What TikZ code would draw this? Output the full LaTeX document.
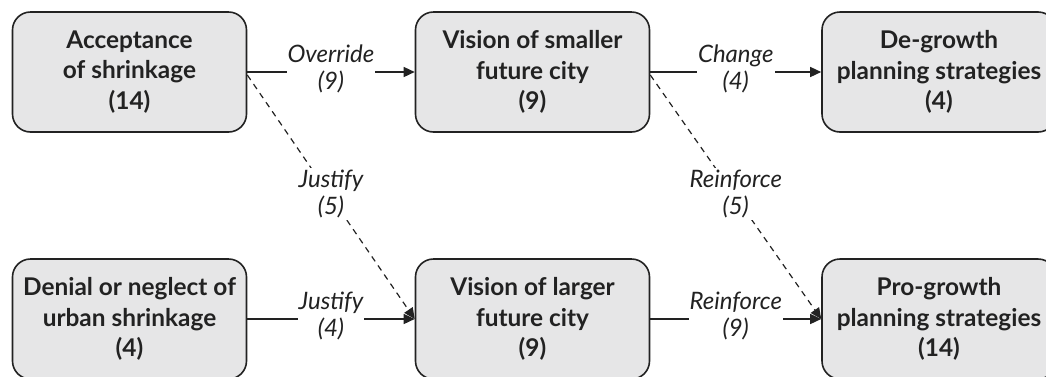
\documentclass[tikz,border=0pt]{standalone}
\usepackage{fontspec}
\setmainfont{Lato}
\usetikzlibrary{arrows.meta}
\definecolor{boxfill}{HTML}{E6E6E7}
\definecolor{ink}{HTML}{222222}
\begin{document}
\begin{tikzpicture}[x=0.5pt,y=-0.5pt,
  box/.style={draw=ink, line width=0.8pt, fill=boxfill, rounded corners=9pt,
    minimum width=117pt, minimum height=60pt, align=center,
    font=\fontsize{12.2}{15.4}\selectfont\bfseries, text=ink, inner sep=0pt},
  lab/.style={fill=white, align=center, font=\fontsize{12}{13.6}\selectfont\itshape,
    inner xsep=0.5pt, inner ysep=1pt, text=ink, yshift=1.5pt},
  conn/.style={line width=0.7pt, draw=ink, -{Triangle[length=5.5pt,width=5pt]}},
  dconn/.style={conn, line width=0.6pt, dash pattern=on 3pt off 2.5pt}]
\useasboundingbox (0,0) rectangle (1046,376);
\node[box] (acc) at (129.5,72) {Acceptance\\of shrinkage\\(14)};
\node[box] (small) at (532.5,72) {Vision of smaller\\future city\\(9)};
\node[box] (degrowth) at (939,72) {De-growth\\planning strategies\\(4)};
\node[box] (den) at (129.5,319) {Denial or neglect of\\urban shrinkage\\(4)};
\node[box] (large) at (532.5,319) {Vision of larger\\future city\\(9)};
\node[box] (pro) at (939,319) {Pro-growth\\planning strategies\\(14)};
\draw[conn] (acc.east) -- node[lab] {Override\\(9)} (small.west);
\draw[conn] (small.east) -- node[lab] {Change\\(4)} (degrowth.west);
\draw[conn] (den.east) -- node[lab] {Justify\\(4)} (large.west);
\draw[conn] (large.east) -- node[lab] {Reinforce\\(9)} (pro.west);
\draw[dconn] ([yshift=-1.5pt]acc.east) -- node[lab] {Justify\\(5)} (large.west);
\draw[dconn] ([yshift=-1.5pt]small.east) -- node[lab] {Reinforce\\(5)} (pro.west);
\end{tikzpicture}
\end{document}
